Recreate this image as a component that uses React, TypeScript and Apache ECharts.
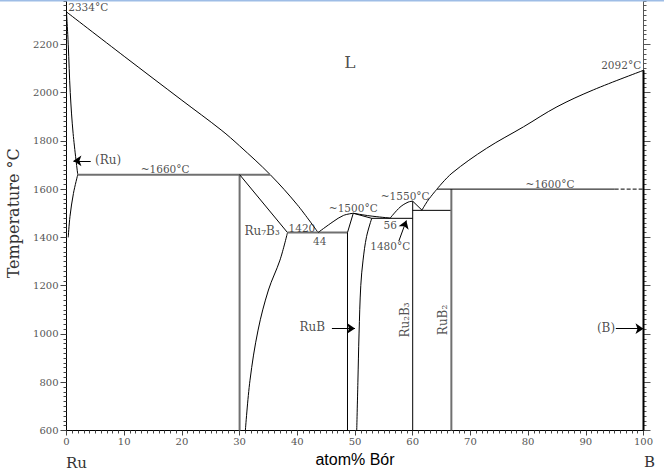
import React, { useEffect, useRef } from "react";
import * as echarts from "echarts";

// ---- Phase boundaries (x: atom% B, y: °C) ----
const ruLiquidus = [[0, 2334], [10, 2150], [20, 1968], [26.8, 1845], [30, 1779], [35.3, 1660], [40, 1535], [43.6, 1420]];
const ruSolidus = [[0, 2334], [0.3, 2200], [0.65, 2000], [1.15, 1830], [1.95, 1660]];
const ruSolvus = [[1.95, 1660], [1.2, 1582], [0.6, 1486], [0.3, 1400]];
const line1660 = [[1.95, 1660], [35.3, 1660]];
const ru7b3Vertical = [[30, 600], [30, 1660]];
const ru7b3Diag = [[30, 1660], [38.3, 1420]];
const ru7b3Boundary = [[38.3, 1420], [37, 1306], [35, 1182], [33.2, 1016], [31.8, 808], [31, 600]];
const line1420 = [[38.3, 1420], [48.7, 1420]];
const rubLiqLeft = [[43.6, 1420], [46.2, 1465], [48, 1491], [49.7, 1500]];
const rubLiqRight = [[49.7, 1500], [52.6, 1489], [56.1, 1480]];
const rubLeft = [[48.7, 600], [48.7, 1420], [49.7, 1500]];
const rubSolidus = [[49.7, 1500], [52.9, 1479]];
const rubRight = [[52.9, 1479], [52, 1403], [51.4, 1306], [51, 1200], [50.7, 1000], [50.5, 800], [50.3, 600]];
const line1480 = [[52.9, 1479], [60, 1479]];
const ru2b3LiqLeft = [[56.1, 1480], [57.8, 1525], [59.2, 1546], [60, 1550]];
const ru2b3LiqDrop = [[60, 1550], [61.6, 1513]];
const ru2b3LiqRight = [[61.6, 1513], [62.7, 1555], [64.2, 1600]];
const ru2b3Vertical = [[60, 600], [60, 1550]];
const line1510 = [[60, 1512], [66.7, 1512]];
const rub2Vertical = [[66.7, 600], [66.7, 1600]];
const line1600 = [[64.2, 1600], [95, 1600]];
const line1600Dashed = [[95, 1600], [100, 1600]];
const bLiquidus = [[64.2, 1600], [66.8, 1666], [72.8, 1769], [79.2, 1858], [85, 1941], [91.3, 2011], [100, 2092]];
const bVertical = [[100, 600], [100, 2092]];

// ---- Arrows ----
const arrows = [
  [[4.2, 1717], [1.2, 1717]],
  [[46.0, 1023], [50.0, 1023]],
  [[95.2, 1022], [100, 1022]],
  [[57.6, 1385], [58.9, 1470]],
];

// ---- Annotations ----
const labelTexts = ["2334°C", "2092°C", "~1660°C", "(Ru)", "Ru₇B₃", "1420", "44", "~1500°C", "56", "1480°C", "~1550°C", "~1600°C", "RuB", "Ru₂B₃", "RuB₂", "(B)", "L"];
const labelX = [0.3, 99.6, 17.1, 7.2, 33.9, 40.8, 43.9, 49.7, 56.1, 56.1, 58.7, 83.8, 42.6, 58.7, 65.3, 93.5, 49.1];
const labelY = [2355, 2113, 1683, 1720, 1426, 1439, 1385, 1522, 1451, 1364, 1571, 1621, 1029, 1058, 1058, 1025, 2126];

// ---- Axes ----
const xTicks = [0, 10, 20, 30, 40, 50, 60, 70, 80, 90, 100];
const yTicks = [600, 800, 1000, 1200, 1400, 1600, 1800, 2000, 2200];

const BLACK = "#000";
const GRAY = "#707070";

function lineSeries(data: number[][], color = BLACK, width = 1, type: string = "solid", smooth: any = false) {
  return {
    type: "line",
    data,
    showSymbol: false,
    symbol: "none",
    silent: true,
    smooth,
    lineStyle: { color, width, type },
    z: 3,
  };
}
const curve = (data: number[][]) => lineSeries(data, BLACK, 1, "solid", 0.35);

export default function App() {
  const ref = useRef<HTMLDivElement>(null);
  useEffect(() => {
    if (!ref.current) return;
    const chart = echarts.init(ref.current, null, { renderer: "svg" });
    const serif = "DejaVu Serif";
    const labelData = labelTexts.map((t, i) => {
      const item: any = {
        name: t,
        value: [labelX[i], labelY[i]],
        label: { show: true },
      };
      if (t === "2334°C") item.label.align = "left";
      if (t === "2092°C") item.label.align = "right";
      if (t === "Ru₂B₃" || t === "RuB₂") item.label.rotate = 90;
      if (t === "L") item.label.fontSize = 17;
      if (t === "Ru₇B₃" || t === "RuB" || t === "Ru₂B₃" || t === "RuB₂" || t === "(Ru)" || t === "(B)") item.label.fontSize = 12;
      return item;
    });
    const option: any = {
      animation: false,
      backgroundColor: "#fff",
      grid: { left: 66.5, right: 20.5, top: -4, bottom: 39.5, outerBoundsMode: "none", containLabel: false },
      xAxis: {
        type: "value",
        min: xTicks[0],
        max: xTicks[xTicks.length - 1],
        interval: 10,
        name: "atom% Bór",
        nameLocation: "middle",
        nameGap: 21,
        nameTextStyle: { fontFamily: "Liberation Sans", fontSize: 16, color: "#000" },
        axisLine: { show: true, onZero: false, lineStyle: { color: BLACK, width: 1 } },
        axisTick: { show: true, length: 5, lineStyle: { color: "#444" } },
        minorTick: { show: true, splitNumber: 10, length: 3, lineStyle: { color: "#444" } },
        axisLabel: { fontFamily: serif, fontSize: 10, color: "#555", margin: 6, formatter: (v: number) => String(v) },
        splitLine: { show: false },
      },
      yAxis: [
        {
          type: "value",
          min: yTicks[0],
          max: 2400,
          interval: 200,
          name: "Temperature °C",
          nameLocation: "middle",
          nameGap: 45,
          nameRotate: 90,
          nameTextStyle: { fontFamily: serif, fontSize: 16, color: "#333" },
          axisLine: { show: true, onZero: false, lineStyle: { color: BLACK, width: 1 } },
          axisTick: { show: true, length: 6, lineStyle: { color: "#444" } },
          minorTick: { show: true, splitNumber: 10, length: 3, lineStyle: { color: "#444" } },
          axisLabel: { fontFamily: serif, fontSize: 10, color: "#555", margin: 8, showMaxLabel: false, formatter: (v: number) => String(v) },
          splitLine: { show: false },
        },
        {
          type: "value",
          position: "right",
          min: yTicks[0],
          max: 2400,
          interval: 200,
          axisLine: { show: true, onZero: false, lineStyle: { color: "#555", width: 1 } },
          axisTick: { show: true, length: 7, lineStyle: { color: "#555" } },
          minorTick: { show: true, splitNumber: 10, length: 3, lineStyle: { color: "#555" } },
          axisLabel: { show: false },
          splitLine: { show: false },
        },
      ],
      graphic: [
        { type: "rect", left: 0, top: 0, shape: { width: 664, height: 1.5 }, style: { fill: "#9ebde6" }, z: 100 },
        { type: "text", left: 66, top: 455, style: { text: "Ru", fontFamily: serif, fontSize: 15, fill: "#333" } },
        { type: "text", left: 644, top: 454, style: { text: "B", fontFamily: serif, fontSize: 15, fill: "#333" } },
      ],
      series: [
        curve(ruLiquidus),
        curve(ruSolidus),
        curve(ruSolvus),
        lineSeries(line1660, GRAY, 2),
        lineSeries(ru7b3Vertical, GRAY, 2),
        lineSeries(ru7b3Diag),
        curve(ru7b3Boundary),
        lineSeries(line1420, GRAY, 2),
        curve(rubLiqLeft),
        curve(rubLiqRight),
        lineSeries(rubLeft),
        lineSeries(rubSolidus),
        curve(rubRight),
        lineSeries(line1480),
        curve(ru2b3LiqLeft),
        lineSeries(ru2b3LiqDrop),
        curve(ru2b3LiqRight),
        lineSeries(ru2b3Vertical),
        lineSeries(line1510),
        lineSeries(rub2Vertical, GRAY, 2),
        lineSeries(line1600),
        lineSeries(line1600Dashed, BLACK, 1, "dashed"),
        curve(bLiquidus),
        lineSeries(bVertical, BLACK, 2),
        {
          type: "lines",
          coordinateSystem: "cartesian2d",
          silent: true,
          symbol: ["none", "arrow"],
          symbolSize: 8,
          lineStyle: { color: BLACK, width: 1, opacity: 1, curveness: 0 },
          data: arrows.map((c) => ({ coords: c })),
          z: 4,
        },
        {
          type: "scatter",
          silent: true,
          symbolSize: 0.1,
          itemStyle: { color: "transparent" },
          label: {
            show: true,
            position: "inside",
            formatter: "{b}",
            fontFamily: serif,
            fontSize: 10.5,
            color: "#222",
            align: "center",
            verticalAlign: "middle",
          },
          data: labelData,
          z: 5,
        },
      ],
    };
    chart.setOption(option);
    return () => chart.dispose();
  }, []);
  return (
    <div
      ref={ref}
      style={{ position: "fixed", left: 0, top: 0, width: 664, height: 470, background: "#fff" }}
    />
  );
}
